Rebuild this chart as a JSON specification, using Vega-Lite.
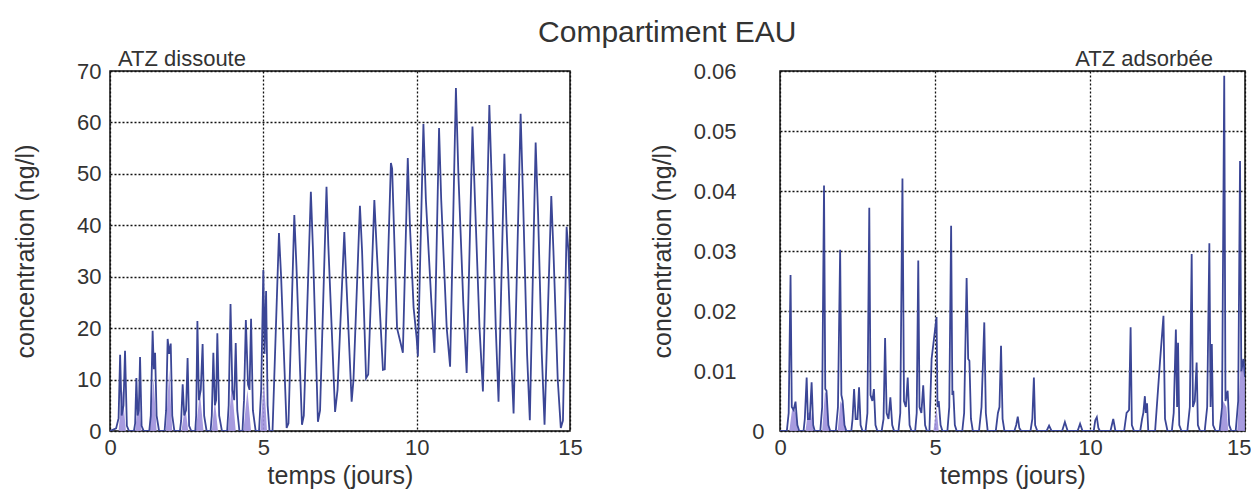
{
  "$schema": "https://vega.github.io/schema/vega-lite/v6.json",
  "background": "white",
  "padding": {"left": 12, "top": 18, "right": 0, "bottom": 0},
  "title": {"text": "Compartiment EAU", "fontSize": 30, "font": "Liberation Sans", "fontWeight": "normal", "color": "#333333", "anchor": "middle", "dx": 35, "offset": -1},
  "spacing": 210,
  "bounds": "flush",
  "datasets": {
    "dis": [
      {"t":0,"c":0},{"t":0.2,"c":0.5},{"t":0.28,"c":2.5},{"t":0.33,"c":14.8},{"t":0.38,"c":3},{"t":0.44,"c":5},{"t":0.49,"c":15.6},{"t":0.55,"c":1},{"t":0.62,"c":0},
      {"t":0.78,"c":0},{"t":0.82,"c":1.5},{"t":0.86,"c":10.3},{"t":0.9,"c":3},{"t":0.94,"c":4},{"t":0.98,"c":14.4},{"t":1.03,"c":1},{"t":1.1,"c":0},
      {"t":1.28,"c":0},{"t":1.33,"c":3},{"t":1.39,"c":19.5},{"t":1.43,"c":12},{"t":1.47,"c":15.2},{"t":1.52,"c":3},{"t":1.6,"c":0},
      {"t":1.78,"c":0},{"t":1.83,"c":4},{"t":1.88,"c":17.9},{"t":1.93,"c":15},{"t":1.98,"c":17},{"t":2.03,"c":3},{"t":2.1,"c":0},
      {"t":2.28,"c":0},{"t":2.32,"c":2},{"t":2.37,"c":9.1},{"t":2.42,"c":3},{"t":2.48,"c":4},{"t":2.53,"c":14.2},{"t":2.58,"c":1},{"t":2.65,"c":0},
      {"t":2.78,"c":0},{"t":2.81,"c":3},{"t":2.85,"c":21.4},{"t":2.9,"c":6},{"t":2.96,"c":8},{"t":3.02,"c":16.9},{"t":3.07,"c":3},{"t":3.15,"c":0},
      {"t":3.28,"c":0},{"t":3.32,"c":3},{"t":3.37,"c":15.2},{"t":3.42,"c":5},{"t":3.46,"c":6},{"t":3.5,"c":19},{"t":3.56,"c":3},{"t":3.65,"c":0},
      {"t":3.82,"c":0},{"t":3.87,"c":5},{"t":3.93,"c":24.7},{"t":3.99,"c":8},{"t":4.05,"c":6},{"t":4.1,"c":17.1},{"t":4.15,"c":4},{"t":4.22,"c":0},
      {"t":4.32,"c":0},{"t":4.37,"c":6},{"t":4.43,"c":21.6},{"t":4.5,"c":9},{"t":4.55,"c":8},{"t":4.6,"c":21.8},{"t":4.66,"c":4},{"t":4.75,"c":0},
      {"t":4.86,"c":0},{"t":4.93,"c":8},{"t":5.0,"c":31.3},{"t":5.04,"c":15},{"t":5.09,"c":27.2},{"t":5.14,"c":5},{"t":5.2,"c":0},{"t":5.3,"c":0},
      {"t":5.51,"c":38.5},{"t":5.58,"c":30},{"t":5.76,"c":0.6},{"t":5.82,"c":1.5},
      {"t":6.01,"c":42},{"t":6.08,"c":32},{"t":6.26,"c":1.2},{"t":6.32,"c":3},
      {"t":6.55,"c":46.5},{"t":6.62,"c":35},{"t":6.78,"c":1.8},{"t":6.85,"c":4},
      {"t":7.06,"c":47.5},{"t":7.12,"c":36},{"t":7.34,"c":3.7},{"t":7.42,"c":8},
      {"t":7.64,"c":38.7},{"t":7.7,"c":30},{"t":7.88,"c":5.7},{"t":7.94,"c":10},
      {"t":8.15,"c":43.8},{"t":8.22,"c":35},{"t":8.35,"c":10.3},{"t":8.42,"c":11},
      {"t":8.62,"c":44.9},{"t":8.7,"c":35},{"t":8.9,"c":11.9},{"t":8.96,"c":12},
      {"t":9.16,"c":52.1},{"t":9.2,"c":51},{"t":9.36,"c":20},{"t":9.48,"c":17},{"t":9.55,"c":15.2},
      {"t":9.71,"c":53.1},{"t":9.78,"c":40},{"t":9.9,"c":24},{"t":10.0,"c":18},{"t":10.04,"c":14.5},
      {"t":10.22,"c":59.7},{"t":10.3,"c":45},{"t":10.48,"c":25},{"t":10.58,"c":15.2},
      {"t":10.73,"c":58.9},{"t":10.8,"c":45},{"t":10.98,"c":20},{"t":11.09,"c":12.5},
      {"t":11.28,"c":66.7},{"t":11.36,"c":50},{"t":11.52,"c":25},{"t":11.63,"c":11.3},
      {"t":11.82,"c":59.2},{"t":11.9,"c":45},{"t":12.05,"c":20},{"t":12.16,"c":7.7},
      {"t":12.37,"c":63.4},{"t":12.45,"c":48},{"t":12.58,"c":20},{"t":12.67,"c":5.7},
      {"t":12.86,"c":53.9},{"t":12.93,"c":40},{"t":13.08,"c":15},{"t":13.16,"c":3.4},
      {"t":13.39,"c":61.7},{"t":13.47,"c":45},{"t":13.6,"c":15},{"t":13.69,"c":2.1},
      {"t":13.88,"c":56.1},{"t":13.96,"c":42},{"t":14.08,"c":15},{"t":14.17,"c":1.2},
      {"t":14.39,"c":45.7},{"t":14.46,"c":35},{"t":14.6,"c":10},{"t":14.7,"c":0.6},{"t":14.77,"c":2},
      {"t":14.89,"c":39.7},{"t":14.95,"c":35},{"t":15.0,"c":24.9}
    ],
    "disLav": [
      {"t":0,"c":0},{"t":0.28,"c":0},{"t":0.4,"c":8},{"t":0.52,"c":0},{"t":0.82,"c":0},{"t":0.93,"c":6.6},{"t":1.03,"c":0},
      {"t":1.3,"c":0},{"t":1.42,"c":10.3},{"t":1.52,"c":0},{"t":1.82,"c":0},{"t":1.93,"c":11.9},{"t":2.03,"c":0},
      {"t":2.33,"c":0},{"t":2.45,"c":5},{"t":2.55,"c":0},{"t":2.8,"c":0},{"t":2.93,"c":7.6},{"t":3.05,"c":0},
      {"t":3.32,"c":0},{"t":3.42,"c":6},{"t":3.52,"c":0},{"t":3.85,"c":0},{"t":3.97,"c":9},{"t":4.1,"c":0},
      {"t":4.35,"c":0},{"t":4.48,"c":8},{"t":4.6,"c":0},{"t":4.9,"c":0},{"t":5.02,"c":10},{"t":5.12,"c":0},{"t":15,"c":0}
    ],
    "ads": [
      {"t":0,"c":0},{"t":0.22,"c":0},{"t":0.28,"c":0.003},{"t":0.34,"c":0.026},{"t":0.38,"c":0.004},{"t":0.44,"c":0.0035},{"t":0.5,"c":0.0049},{"t":0.56,"c":0.001},{"t":0.62,"c":0},
      {"t":0.76,"c":0},{"t":0.8,"c":0.002},{"t":0.86,"c":0.0089},{"t":0.9,"c":0.002},{"t":0.96,"c":0.002},{"t":1.02,"c":0.0081},{"t":1.07,"c":0.001},{"t":1.12,"c":0},
      {"t":1.3,"c":0},{"t":1.36,"c":0.004},{"t":1.42,"c":0.0409},{"t":1.46,"c":0.007},{"t":1.5,"c":0.0067},{"t":1.56,"c":0.001},{"t":1.62,"c":0},
      {"t":1.8,"c":0},{"t":1.87,"c":0.004},{"t":1.94,"c":0.0302},{"t":1.98,"c":0.006},{"t":2.02,"c":0.005},{"t":2.08,"c":0.001},{"t":2.14,"c":0},
      {"t":2.3,"c":0},{"t":2.34,"c":0.002},{"t":2.39,"c":0.007},{"t":2.44,"c":0.002},{"t":2.5,"c":0.002},{"t":2.55,"c":0.0073},{"t":2.6,"c":0.001},{"t":2.66,"c":0},
      {"t":2.76,"c":0},{"t":2.82,"c":0.003},{"t":2.88,"c":0.0372},{"t":2.92,"c":0.006},{"t":2.98,"c":0.005},{"t":3.03,"c":0.007},{"t":3.08,"c":0.001},{"t":3.14,"c":0},
      {"t":3.28,"c":0},{"t":3.34,"c":0.002},{"t":3.39,"c":0.0155},{"t":3.44,"c":0.003},{"t":3.5,"c":0.002},{"t":3.56,"c":0.0056},{"t":3.62,"c":0.001},{"t":3.68,"c":0},
      {"t":3.82,"c":0},{"t":3.88,"c":0.003},{"t":3.95,"c":0.0421},{"t":4.0,"c":0.005},{"t":4.06,"c":0.004},{"t":4.12,"c":0.0089},{"t":4.18,"c":0.001},{"t":4.24,"c":0},
      {"t":4.36,"c":0},{"t":4.41,"c":0.003},{"t":4.46,"c":0.0284},{"t":4.5,"c":0.004},{"t":4.56,"c":0.003},{"t":4.62,"c":0.0076},{"t":4.68,"c":0.001},{"t":4.74,"c":0},
      {"t":4.82,"c":0},{"t":4.89,"c":0.012},{"t":5.05,"c":0.019},{"t":5.08,"c":0.004},{"t":5.12,"c":0.005},{"t":5.18,"c":0.001},{"t":5.24,"c":0},
      {"t":5.4,"c":0},{"t":5.46,"c":0.004},{"t":5.52,"c":0.0342},{"t":5.56,"c":0.006},{"t":5.59,"c":0.0067},{"t":5.64,"c":0.001},{"t":5.7,"c":0},
      {"t":5.88,"c":0},{"t":5.94,"c":0.003},{"t":6.02,"c":0.0255},{"t":6.07,"c":0.012},{"t":6.11,"c":0.0117},{"t":6.16,"c":0.002},{"t":6.22,"c":0},
      {"t":6.42,"c":0},{"t":6.5,"c":0.004},{"t":6.59,"c":0.0181},{"t":6.64,"c":0.003},{"t":6.7,"c":0},
      {"t":6.96,"c":0},{"t":7.03,"c":0.003},{"t":7.08,"c":0.004},{"t":7.13,"c":0.0142},{"t":7.18,"c":0.002},{"t":7.24,"c":0},
      {"t":7.56,"c":0},{"t":7.62,"c":0.001},{"t":7.67,"c":0.0024},{"t":7.72,"c":0.0005},{"t":7.78,"c":0},
      {"t":8.08,"c":0},{"t":8.14,"c":0.002},{"t":8.19,"c":0.0089},{"t":8.23,"c":0.001},{"t":8.3,"c":0},
      {"t":8.6,"c":0},{"t":8.68,"c":0.0009},{"t":8.76,"c":0},{"t":9.1,"c":0},{"t":9.19,"c":0.0015},{"t":9.28,"c":0},
      {"t":9.6,"c":0},{"t":9.68,"c":0.0012},{"t":9.76,"c":0},{"t":10.12,"c":0},{"t":10.17,"c":0.0018},{"t":10.22,"c":0.0023},{"t":10.27,"c":0.0005},{"t":10.32,"c":0},
      {"t":10.66,"c":0},{"t":10.75,"c":0.002},{"t":10.82,"c":0},
      {"t":11.1,"c":0},{"t":11.18,"c":0.003},{"t":11.26,"c":0.0035},{"t":11.31,"c":0.0173},{"t":11.35,"c":0.001},{"t":11.42,"c":0},
      {"t":11.62,"c":0},{"t":11.68,"c":0.002},{"t":11.72,"c":0.003},{"t":11.77,"c":0.0058},{"t":11.8,"c":0.003},{"t":11.84,"c":0.0046},{"t":11.88,"c":0},
      {"t":12.1,"c":0},{"t":12.26,"c":0.0117},{"t":12.37,"c":0.0192},{"t":12.42,"c":0.002},{"t":12.5,"c":0},
      {"t":12.64,"c":0},{"t":12.7,"c":0.003},{"t":12.77,"c":0.0169},{"t":12.81,"c":0.004},{"t":12.84,"c":0.0147},{"t":12.88,"c":0.001},{"t":12.95,"c":0},
      {"t":13.14,"c":0},{"t":13.22,"c":0.004},{"t":13.28,"c":0.0295},{"t":13.32,"c":0.004},{"t":13.38,"c":0.005},{"t":13.44,"c":0.0114},{"t":13.48,"c":0.001},{"t":13.55,"c":0},
      {"t":13.7,"c":0},{"t":13.78,"c":0.004},{"t":13.85,"c":0.0313},{"t":13.89,"c":0.004},{"t":13.93,"c":0.0145},{"t":13.97,"c":0.001},{"t":14.05,"c":0},
      {"t":14.18,"c":0},{"t":14.26,"c":0.004},{"t":14.33,"c":0.0592},{"t":14.37,"c":0.005},{"t":14.44,"c":0.0067},{"t":14.49,"c":0.001},{"t":14.56,"c":0},
      {"t":14.7,"c":0},{"t":14.78,"c":0.005},{"t":14.84,"c":0.045},{"t":14.88,"c":0.01},{"t":14.95,"c":0.012},{"t":15.0,"c":0.009}
    ],
    "adsLav": [
      {"t":0,"c":0},{"t":0.3,"c":0},{"t":0.4,"c":0.004},{"t":0.52,"c":0.003},{"t":0.58,"c":0},{"t":0.82,"c":0},{"t":0.9,"c":0.003},{"t":1.0,"c":0.0032},{"t":1.08,"c":0},
      {"t":1.36,"c":0},{"t":1.45,"c":0.0065},{"t":1.52,"c":0.006},{"t":1.58,"c":0},{"t":1.86,"c":0},{"t":1.95,"c":0.005},{"t":2.05,"c":0.004},{"t":2.1,"c":0},
      {"t":4.95,"c":0},{"t":5.05,"c":0.004},{"t":5.12,"c":0},{"t":14.2,"c":0},{"t":14.3,"c":0.005},{"t":14.4,"c":0.004},{"t":14.46,"c":0},
      {"t":14.75,"c":0},{"t":14.85,"c":0.01},{"t":14.92,"c":0.012},{"t":15,"c":0.011}
    ]
  },
  "hconcat": [
    {
      "width": 460,
      "height": 360,
      "title": {"text": "ATZ dissoute", "anchor": "start", "frame": "group", "dx": 8, "offset": -11},
      "encoding": {
        "x": {"field": "t", "type": "quantitative", "scale": {"domain": [0, 15], "nice": false},
              "axis": {"values": [0, 5, 10, 15], "title": "temps (jours)", "labelFlush": false, "labelPadding": 6, "titlePadding": 5}},
        "y": {"field": "c", "type": "quantitative", "scale": {"domain": [0, 70], "nice": false},
              "axis": {"values": [0, 10, 20, 30, 40, 50, 60, 70], "title": "concentration (ng/l)", "labelPadding": 9, "titlePadding": 38}}
      },
      "layer": [
        {"data": {"name": "disLav"}, "mark": {"type": "area", "color": "#9d90dc", "opacity": 0.9, "clip": true}},
        {"data": {"name": "dis"}, "mark": {"type": "line", "color": "#3b4696", "strokeWidth": 1.8, "clip": true}}
      ]
    },
    {
      "width": 465,
      "height": 360,
      "title": {"text": "ATZ adsorbée", "anchor": "end", "frame": "group", "dx": -32, "offset": -11},
      "encoding": {
        "x": {"field": "t", "type": "quantitative", "scale": {"domain": [0, 15], "nice": false},
              "axis": {"values": [0, 5, 10, 15], "title": "temps (jours)", "labelFlush": false, "labelPadding": 6, "titlePadding": 5,
                       "labelAlign": {"condition": {"test": "datum.value == 15", "value": "right"}, "value": "center"},
                       "labelOffset": {"condition": {"test": "datum.value == 15", "value": 6}, "value": 0}}},
        "y": {"field": "c", "type": "quantitative", "scale": {"domain": [0, 0.06], "nice": false},
              "axis": {"values": [0, 0.01, 0.02, 0.03, 0.04, 0.05, 0.06], "title": "concentration (ng/l)",
                       "labelExpr": "datum.value == 0 ? '0' : format(datum.value, '.2f')",
                       "labelPadding": {"condition": {"test": "datum.value == 0", "value": 16}, "value": 44},
                       "titlePadding": 18}}
      },
      "layer": [
        {"data": {"name": "adsLav"}, "mark": {"type": "area", "color": "#9d90dc", "opacity": 0.9, "clip": true}},
        {"data": {"name": "ads"}, "mark": {"type": "line", "color": "#3b4696", "strokeWidth": 1.8, "clip": true}}
      ]
    }
  ],
  "config": {
    "font": "Liberation Sans",
    "view": {"stroke": "#111111", "strokeWidth": 1.5},
    "axis": {
      "grid": true, "gridColor": "#111111", "gridDash": [2, 2], "gridWidth": 1.3,
      "domain": false, "ticks": false,
      "labelFont": "Liberation Sans", "labelFontSize": 22, "labelColor": "#333333",
      "titleFont": "Liberation Sans", "titleFontSize": 25, "titleFontWeight": "normal", "titleColor": "#333333"
    },
    "title": {"font": "Liberation Sans", "fontSize": 22, "fontWeight": "normal", "color": "#333333"}
  }
}
